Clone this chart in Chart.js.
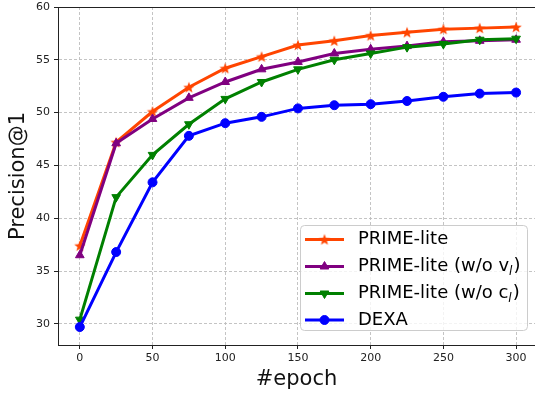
<!DOCTYPE html>
<html>
<head>
<meta charset="utf-8">
<script src="https://cdn.jsdelivr.net/npm/chart.js@4.4.1/dist/chart.umd.min.js"></script>
<style>
  html, body { margin: 0; padding: 0; background: #fff; overflow: hidden; }
  #wrap { width: 535px; height: 394px; }
</style>
</head>
<body>
<div id="wrap"><canvas id="precisionChart" width="535" height="394"></canvas></div>
<script>
// epochs on the x axis
const epochs = [0, 25, 50, 75, 100, 125, 150, 175, 200, 225, 250, 275, 300];

// Precision@1 per epoch
const primeLite      = [37.4, 47.2, 50.1, 52.4, 54.2, 55.3, 56.4, 56.8, 57.3, 57.6, 57.9, 58.0, 58.1];
const primeLiteNoV   = [36.5, 47.1, 49.4, 51.4, 52.9, 54.1, 54.8, 55.6, 56.0, 56.3, 56.7, 56.8, 56.9];
const primeLiteNoC   = [30.4, 42.0, 46.0, 48.9, 51.3, 52.9, 54.1, 55.0, 55.6, 56.2, 56.5, 56.9, 57.0];
const dexa           = [29.7, 36.8, 43.4, 47.8, 49.0, 49.6, 50.4, 50.7, 50.8, 51.1, 51.5, 51.8, 51.9];

const xTicks = [0, 50, 100, 150, 200, 250, 300];
const yTicks = [30, 35, 40, 45, 50, 55, 60];

// legend labels: [main text, subscript, closing text]
const labels = [
    ['PRIME-lite', '', ''],
    ['PRIME-lite (w/o v', 'l', ')'],
    ['PRIME-lite (w/o c', 'l', ')'],
    ['DEXA', '', '']
];
const colors = ['#ff4500', '#800080', '#008000', '#0000ff'];

function makeStar(outer, color) {
    const c = document.createElement('canvas');
    const s = Math.ceil(outer * 2 + 2);
    c.width = s; c.height = s;
    const g = c.getContext('2d');
    const inner = outer * 0.42;
    g.beginPath();
    for (let i = 0; i < 10; i++) {
        const r = i % 2 === 0 ? outer : inner;
        const a = -Math.PI / 2 + i * Math.PI / 5;
        const px = s / 2 + r * Math.cos(a);
        const py = s / 2 + r * Math.sin(a) + 0.5;
        if (i === 0) g.moveTo(px, py); else g.lineTo(px, py);
    }
    g.closePath();
    g.fillStyle = color;
    g.fill();
    return c;
}

const starImg = makeStar(6, colors[0]);

function pts(vals) {
    return epochs.map((e, i) => ({ x: e, y: vals[i] }));
}

const markerStyles = [
    { pointStyle: starImg, pointRadius: 6, pointRotation: 0 },
    { pointStyle: 'triangle', pointRadius: 5, pointRotation: 0 },
    { pointStyle: 'triangle', pointRadius: 5, pointRotation: 180 },
    { pointStyle: 'circle', pointRadius: 4.5, pointRotation: 0 }
];

const series = [primeLite, primeLiteNoV, primeLiteNoC, dexa];

const datasets = series.map((vals, i) => ({
    label: labels[i].join(''),
    data: pts(vals),
    borderColor: colors[i],
    backgroundColor: colors[i],
    borderWidth: 3,
    pointBorderWidth: 1,
    pointBorderColor: colors[i],
    pointBackgroundColor: colors[i],
    pointStyle: markerStyles[i].pointStyle,
    pointRadius: markerStyles[i].pointRadius,
    rotation: markerStyles[i].pointRotation,
    tension: 0,
    clip: false,
    order: 4 - i
}));

// top frame line (the right spine falls outside the picture)
const frameBox = {
    id: 'frameBox',
    beforeDatasetsDraw(chart) {
        const { ctx, chartArea: a } = chart;
        ctx.save();
        ctx.strokeStyle = '#222';
        ctx.lineWidth = 1;
        ctx.beginPath();
        ctx.moveTo(a.left, a.top + 0.5);
        ctx.lineTo(a.right, a.top + 0.5);
        ctx.stroke();
        ctx.restore();
    }
};

// matplotlib style legend: line + marker sample
const lineLegend = {
    id: 'lineLegend',
    afterDatasetsDraw(chart) {
        const ctx = chart.ctx;
        const box = { x: 300, y: 225, w: 227, h: 105 };
        ctx.save();
        ctx.beginPath();
        ctx.roundRect(box.x + 0.5, box.y + 0.5, box.w, box.h, 4);
        ctx.fillStyle = 'rgba(255,255,255,0.8)';
        ctx.fill();
        ctx.strokeStyle = '#cccccc';
        ctx.lineWidth = 1;
        ctx.stroke();

        const rowY = [239.5, 266.5, 293.5, 320];
        labels.forEach((lab, i) => {
            const y = rowY[i];
            ctx.strokeStyle = colors[i];
            ctx.lineWidth = 3;
            ctx.beginPath();
            ctx.moveTo(305, y);
            ctx.lineTo(344, y);
            ctx.stroke();
            const st = markerStyles[i];
            ctx.fillStyle = colors[i];
            ctx.strokeStyle = colors[i];
            ctx.lineWidth = 1;
            Chart.helpers.drawPoint(ctx, {
                pointStyle: st.pointStyle,
                radius: st.pointRadius,
                rotation: st.pointRotation,
                borderWidth: 1
            }, 324.5, y);

            ctx.fillStyle = '#000';
            ctx.textBaseline = 'middle';
            ctx.textAlign = 'left';
            ctx.font = '18px "DejaVu Sans"';
            let x = 358;
            ctx.fillText(lab[0], x, y);
            x += ctx.measureText(lab[0]).width;
            if (lab[1]) {
                ctx.font = 'italic 12px "DejaVu Sans"';
                ctx.fillText(lab[1], x, y + 5);
                x += ctx.measureText(lab[1]).width + 1;
                ctx.font = '18px "DejaVu Sans"';
                ctx.fillText(lab[2], x, y);
            }
        });
        ctx.restore();
    }
};

const gridStyle = {
    color: '#bdbdbd',
    lineWidth: 0.9,
    tickColor: '#222',
    tickLength: 4,
    tickBorderDash: [],
    tickWidth: 1
};
const borderStyle = { display: true, color: '#222', width: 1, dash: [3, 2] };

const ctx = document.getElementById('precisionChart').getContext('2d');
const precisionChart = new Chart(ctx, {
    type: 'line',
    data: { datasets },
    options: {
        responsive: false,
        animation: false,
        layout: { autoPadding: false, padding: { top: 7, right: 0, left: 0, bottom: 0 } },
        plugins: {
            legend: { display: false },
            tooltip: { enabled: false }
        },
        scales: {
            x: {
                type: 'linear',
                min: -15,
                max: 313,
                afterBuildTicks: (scale) => { scale.ticks = xTicks.map(v => ({ value: v })); },
                afterFit: (scale) => {
                    scale.height = 49;
                    scale.paddingLeft = 0;
                    scale.paddingRight = 0;
                },
                grid: gridStyle,
                border: borderStyle,
                ticks: {
                    color: '#222',
                    font: { family: 'DejaVu Sans', size: 11 },
                    padding: 3,
                    maxRotation: 0
                },
                title: {
                    display: true,
                    text: '#epoch',
                    color: '#111',
                    font: { family: 'DejaVu Sans', size: 21 },
                    padding: { top: 0, bottom: 2 }
                }
            },
            y: {
                min: 28,
                max: 60,
                afterBuildTicks: (scale) => { scale.ticks = yTicks.map(v => ({ value: v })); },
                afterFit: (scale) => {
                    scale.width = 58;
                    scale.paddingTop = 0;
                    scale.paddingBottom = 0;
                },
                grid: gridStyle,
                border: borderStyle,
                ticks: {
                    color: '#222',
                    font: { family: 'DejaVu Sans', size: 11 },
                    padding: 4
                },
                title: {
                    display: true,
                    text: 'Precision@1',
                    color: '#111',
                    font: { family: 'DejaVu Sans', size: 21 },
                    padding: { top: 6, bottom: 0 }
                }
            }
        }
    },
    plugins: [frameBox, lineLegend]
});
</script>
</body>
</html>
